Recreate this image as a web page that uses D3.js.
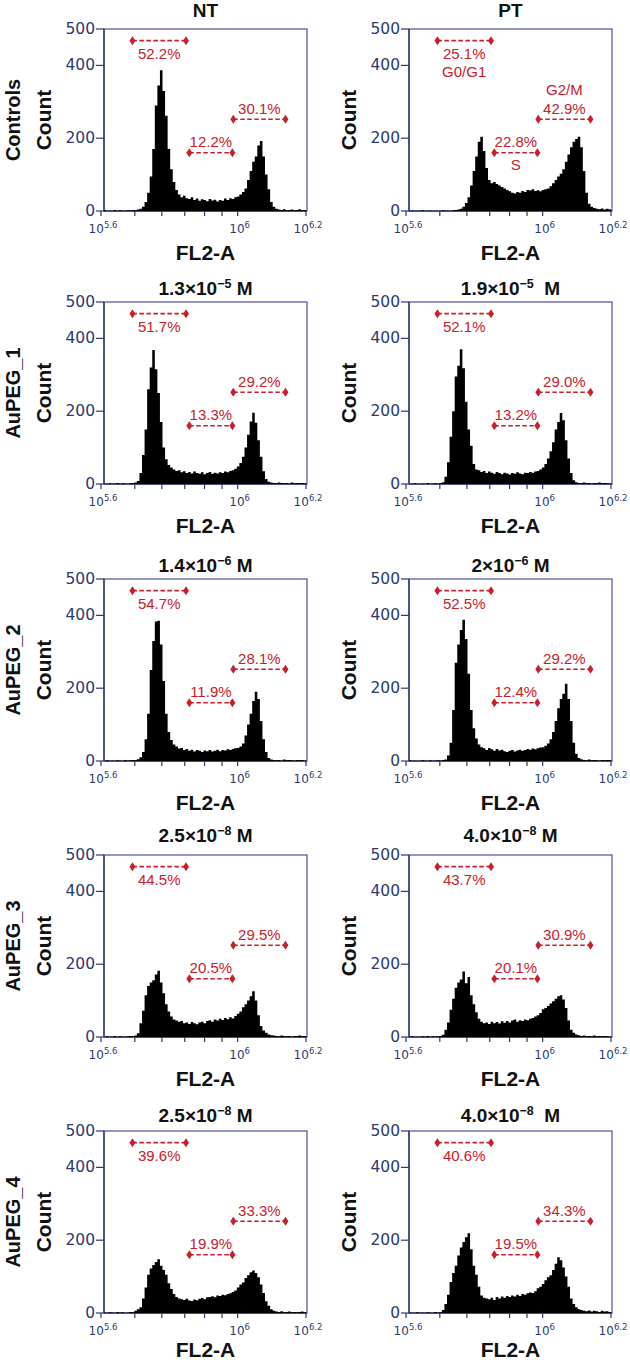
<!DOCTYPE html>
<html><head><meta charset="utf-8">
<script src="https://cdn.jsdelivr.net/npm/d3@7"></script>
<style>
body{margin:0;background:#fff}
svg{display:block}
text{font-family:"Liberation Sans",Arial,sans-serif;white-space:pre}
</style>
</head><body>
<svg id="chart" width="630" height="1360"></svg>
<script>
// ---------- DATA ----------
const rowLabels = ["Controls", "AuPEG_1", "AuPEG_2", "AuPEG_3", "AuPEG_4"];
// title parts: [base, superscript, suffix]
const titles = [
  [["NT"], ["PT"]],
  [["1.3×10", "−5", " M"], ["1.9×10", "−5", "  M"]],
  [["1.4×10", "−6", " M"], ["2×10", "−6", " M"]],
  [["2.5×10", "−8", " M"], ["4.0×10", "−8", " M"]],
  [["2.5×10", "−8", " M"], ["4.0×10", "−8", "  M"]]
];
const pctG0G1 = [[52.2, 25.1], [51.7, 52.1], [54.7, 52.5], [44.5, 43.7], [39.6, 40.6]];
const pctS    = [[12.2, 22.8], [13.3, 13.2], [11.9, 12.4], [20.5, 20.1], [19.9, 19.5]];
const pctG2M  = [[30.1, 42.9], [29.2, 29.0], [28.1, 29.2], [29.5, 30.9], [33.3, 34.3]];
const gateG0G1 = [4.92e5, 7.06e5];
const gateS    = [7.22e5, 9.65e5];
const gateG2M  = [9.71e5, 1.38e6];
const gateLevels = [468, 160, 252]; // counts at which G0/G1, S, G2/M markers sit
const phaseNames = ["G0/G1", "S", "G2/M"];
const yTicks = [0, 200, 400, 500];
const xMajorTicks = [Math.pow(10, 5.6), 1e6, Math.pow(10, 6.2)];
const xMajorExp = ["5.6", "6", "6.2"];
const xMinorTicks = [5e5, 6e5, 7e5, 8e5, 9e5];
// histogram bins: 80 bins of 0.0075 decades starting at 10^5.6
const binStartLog = d3.range(80).map(i => 5.6 + i * 0.0075);
const binWidthLog = 0.0075;

const histControlsNT = [0,2,0,1,0,3,0,2,1,0,2,1,3,2,4,6,
  12,25,50,95,170,290,345,387,330,262,170,115,80,58,
  45,38,42,35,33,38,30,34,28,32,30,27,33,29,31,26,30,28,34,30,35,33,38,40,45,52,
  62,85,110,135,150,180,192,150,100,60,25,12,6,
  4,3,5,2,3,4,2,3,5,2,3];
const histControlsPT = [0,0,1,0,0,0,2,0,0,1,0,0,0,0,2,0,1,0,2,3,
  4,6,12,22,38,70,110,150,190,204,165,118,85,76,80,74,70,66,62,58,54,50,48,
  52,50,55,52,58,56,60,55,57,54,58,60,62,
  68,76,85,95,102,115,135,155,175,190,198,204,175,
  110,50,20,12,8,6,5,7,4,6,5];
const histAuPEG1NT = [0,1,0,2,0,1,3,0,2,1,0,2,3,4,
  8,30,80,150,260,320,368,315,250,170,100,68,52,45,
  40,36,38,32,35,30,33,29,34,30,28,32,27,30,33,28,31,29,32,30,34,32,36,
  38,42,48,58,75,100,135,172,196,168,120,75,35,14,6,4,
  3,2,4,3,2,3,1,4,2,3,2,3,2];
const histAuPEG1PT = [1,0,0,2,0,0,1,0,3,0,1,2,0,3,
  5,20,60,130,200,295,325,370,318,226,150,105,55,40,
  38,33,36,30,34,31,28,33,30,27,31,29,26,30,28,32,29,27,31,30,33,31,34,
  36,40,45,55,70,90,115,150,170,195,175,120,70,30,10,5,
  3,2,4,2,3,1,3,2,4,2,3,2,1];
const histAuPEG2NT = [1,0,2,0,1,0,2,1,0,3,1,2,3,2,5,
  10,25,60,130,250,330,383,385,320,220,130,80,58,45,40,
  34,36,30,33,28,31,26,30,28,25,29,27,30,26,28,31,27,30,29,32,30,33,35,36,
  40,48,70,100,130,165,190,170,110,60,25,8,4,
  3,2,3,1,4,2,3,2,1,3,2,3,1];
const histAuPEG2PT = [0,2,0,1,0,0,2,1,0,2,0,1,2,1,3,4,
  15,50,140,270,320,360,388,335,240,140,90,62,45,38,35,
  30,36,32,28,33,29,31,27,25,28,30,26,29,31,28,30,33,31,34,32,35,37,38,42,48,
  60,80,110,145,170,185,212,170,110,50,20,8,5,
  3,2,4,2,3,2,1,3,2,3,2];
const histAuPEG3NT = [1,0,2,0,1,3,0,2,1,0,2,3,2,4,
  10,38,72,115,140,150,156,172,182,150,120,90,70,56,48,
  45,42,44,38,40,36,41,38,35,40,42,38,44,46,42,48,45,50,47,52,49,54,51,
  58,64,70,82,90,100,112,126,100,60,30,18,12,7,5,
  4,3,2,4,3,2,3,1,3,2,4,2,3];
const histAuPEG3PT = [0,1,2,0,1,0,2,1,3,0,2,1,2,3,6,
  20,40,75,105,135,150,158,180,148,165,115,90,68,50,42,
  38,40,36,42,38,41,37,43,39,44,40,45,48,42,46,44,48,46,50,
  52,56,60,66,76,80,85,92,98,105,112,115,103,80,45,20,12,7,
  5,3,4,2,3,2,4,2,3,2,3,2,1];
const histAuPEG4NT = [0,1,0,2,1,0,3,1,2,0,1,3,2,
  6,10,16,40,70,105,122,132,140,148,130,118,105,82,66,52,44,
  40,38,36,39,34,33,37,35,39,41,38,43,44,46,43,48,47,50,49,52,54,
  58,62,70,78,84,96,104,112,117,110,98,78,55,32,20,10,6,
  4,3,5,2,3,4,2,3,2,3,4,2];
const histAuPEG4PT = [0,1,0,0,2,0,1,0,2,1,0,3,1,2,
  8,25,50,85,110,130,158,180,195,208,219,175,130,105,72,48,
  42,40,38,42,36,44,40,45,42,47,44,48,45,50,47,52,50,54,56,55,60,
  68,72,80,90,98,104,118,135,153,145,125,100,72,40,25,16,10,8,
  6,5,7,4,6,5,3,6,4,5,3];
const histograms = [
  [histControlsNT, histControlsPT],
  [histAuPEG1NT, histAuPEG1PT],
  [histAuPEG2NT, histAuPEG2PT],
  [histAuPEG3NT, histAuPEG3PT],
  [histAuPEG4NT, histAuPEG4PT]
];

// ---------- LAYOUT ----------
const colLeft = [104, 409];
const frameW = 203, frameH = 182;
const rowTop = [29, 302, 579, 855, 1131];
const titleBase = [17, 295, 572, 842, 1122];
const red = "#c8202b", navy = "#2c3a70", frameCol = "#4f4fa0";

const svg = d3.select("#chart");
const defs = svg.append("defs");

rowLabels.forEach((rl, r) => {
  const top = rowTop[r];
  const midY = top + frameH / 2;
  svg.append("text")
    .attr("transform", `translate(13,${midY}) rotate(-90)`)
    .attr("text-anchor", "middle").attr("dominant-baseline", "central")
    .attr("font-size", 20).attr("font-weight", "bold").attr("fill", "#111")
    .text(rl);

  [0, 1].forEach(c => {
    const left = colLeft[c];
    const g = svg.append("g").attr("transform", `translate(${left},${top})`);
    const x = d3.scaleLog().domain([Math.pow(10, 5.6), Math.pow(10, 6.2)]).range([-3, frameW - 1]);
    const y = d3.scaleLinear().domain([0, 500]).range([frameH, 0]);

    // clip
    const cid = `clip${r}${c}`;
    defs.append("clipPath").attr("id", cid).append("rect")
      .attr("x", left).attr("y", top).attr("width", frameW).attr("height", frameH);

    // histogram
    const vals = histograms[r][c];
    const pts = vals.map((v, i) => [Math.pow(10, binStartLog[i]), v]);
    pts.push([Math.pow(10, binStartLog[vals.length - 1] + binWidthLog), vals[vals.length - 1]]);
    const area = d3.area().curve(d3.curveStepAfter)
      .x(d => x(d[0])).y0(y(0)).y1(d => y(d[1]));
    svg.append("g").attr("clip-path", `url(#${cid})`)
      .append("path").attr("transform", `translate(${left},${top})`)
      .attr("d", area(pts)).attr("fill", "#000");

    // frame
    g.append("rect").attr("x", 0).attr("y", 0).attr("width", frameW).attr("height", frameH)
      .attr("fill", "none").attr("stroke", frameCol).attr("stroke-width", 1.2);
    g.append("line").attr("x1", 0).attr("x2", frameW).attr("y1", frameH).attr("y2", frameH)
      .attr("stroke", navy).attr("stroke-width", 1.4);
    g.append("line").attr("x1", 0).attr("x2", 0).attr("y1", 0).attr("y2", frameH)
      .attr("stroke", navy).attr("stroke-width", 1.4);

    // y axis
    yTicks.forEach(t => {
      g.append("line").attr("x1", -8).attr("x2", 0).attr("y1", y(t)).attr("y2", y(t))
        .attr("stroke", navy).attr("stroke-width", 1.2);
      g.append("text").attr("x", -9).attr("y", y(t)).attr("text-anchor", "end")
        .attr("dominant-baseline", "central")
        .style("font-family", "'DejaVu Sans',sans-serif")
        .attr("font-size", 15.5).attr("fill", navy).text(t);
    });

    // x axis
    xMinorTicks.concat(xMajorTicks).forEach(t => {
      g.append("line").attr("x1", x(t)).attr("x2", x(t)).attr("y1", frameH).attr("y2", frameH + 5)
        .attr("stroke", navy).attr("stroke-width", 1.2);
    });
    xMajorTicks.forEach((t, i) => {
      const tx = g.append("text").attr("x", x(t) + 2).attr("y", frameH + 22)
        .attr("text-anchor", "middle").attr("fill", navy)
        .style("font-family", "'DejaVu Sans',sans-serif").attr("font-size", 12);
      tx.append("tspan").text("10");
      tx.append("tspan").attr("dy", -5).attr("font-size", 8.5).text(xMajorExp[i]);
    });

    // labels
    g.append("text").attr("x", frameW / 2).attr("y", Math.min(frameH + 49, 1357 - top))
      .attr("text-anchor", "middle").attr("font-size", 21).attr("font-weight", "bold")
      .attr("fill", "#111").text("FL2-A");
    g.append("text")
      .attr("transform", `translate(${-61},${frameH / 2}) rotate(-90)`)
      .attr("text-anchor", "middle").attr("dominant-baseline", "central")
      .attr("font-size", 21).attr("font-weight", "bold").attr("fill", "#111").text("Count");

    // title
    const tp = titles[r][c];
    const tt = svg.append("text").attr("x", left + frameW / 2).attr("y", titleBase[r])
      .attr("text-anchor", "middle").attr("font-size", 19).attr("font-weight", "bold")
      .attr("fill", "#111");
    tt.append("tspan").text(tp[0]);
    if (tp.length > 1) {
      tt.append("tspan").attr("dy", -7).attr("font-size", 12.5).text(tp[1]);
      tt.append("tspan").attr("dy", 7).text(tp[2]);
    }

    // gates
    const gates = [gateG0G1, gateS, gateG2M];
    const pcts = [pctG0G1[r][c], pctS[r][c], pctG2M[r][c]];
    const diamond = "M0,-4.5L3,0L0,4.5L-3,0Z";
    gates.forEach((gt, k) => {
      const gy = y(gateLevels[k]);
      const x1 = x(gt[0]), x2 = x(gt[1]);
      g.append("line").attr("x1", x1).attr("x2", x2).attr("y1", gy).attr("y2", gy)
        .attr("stroke", red).attr("stroke-width", 1.7).attr("stroke-dasharray", "4.5,2.5");
      [x1, x2].forEach(px => g.append("path").attr("d", diamond)
        .attr("transform", `translate(${px},${gy})`).attr("fill", red));
      const cx = (x1 + x2) / 2;
      const below = k === 0;
      g.append("text").attr("x", cx).attr("y", below ? gy + 18.5 : gy - 5.5)
        .attr("text-anchor", "middle").attr("font-size", 15).attr("fill", red)
        .text(pcts[k].toFixed(1) + "%");
      if (r === 0 && c === 1) {
        const ny = k === 0 ? gy + 36 : (k === 1 ? gy + 17 : gy - 24);
        g.append("text").attr("x", cx).attr("y", ny)
          .attr("text-anchor", "middle").attr("font-size", 15).attr("fill", red)
          .text(phaseNames[k]);
      }
    });
  });
});
</script>
</body></html>
